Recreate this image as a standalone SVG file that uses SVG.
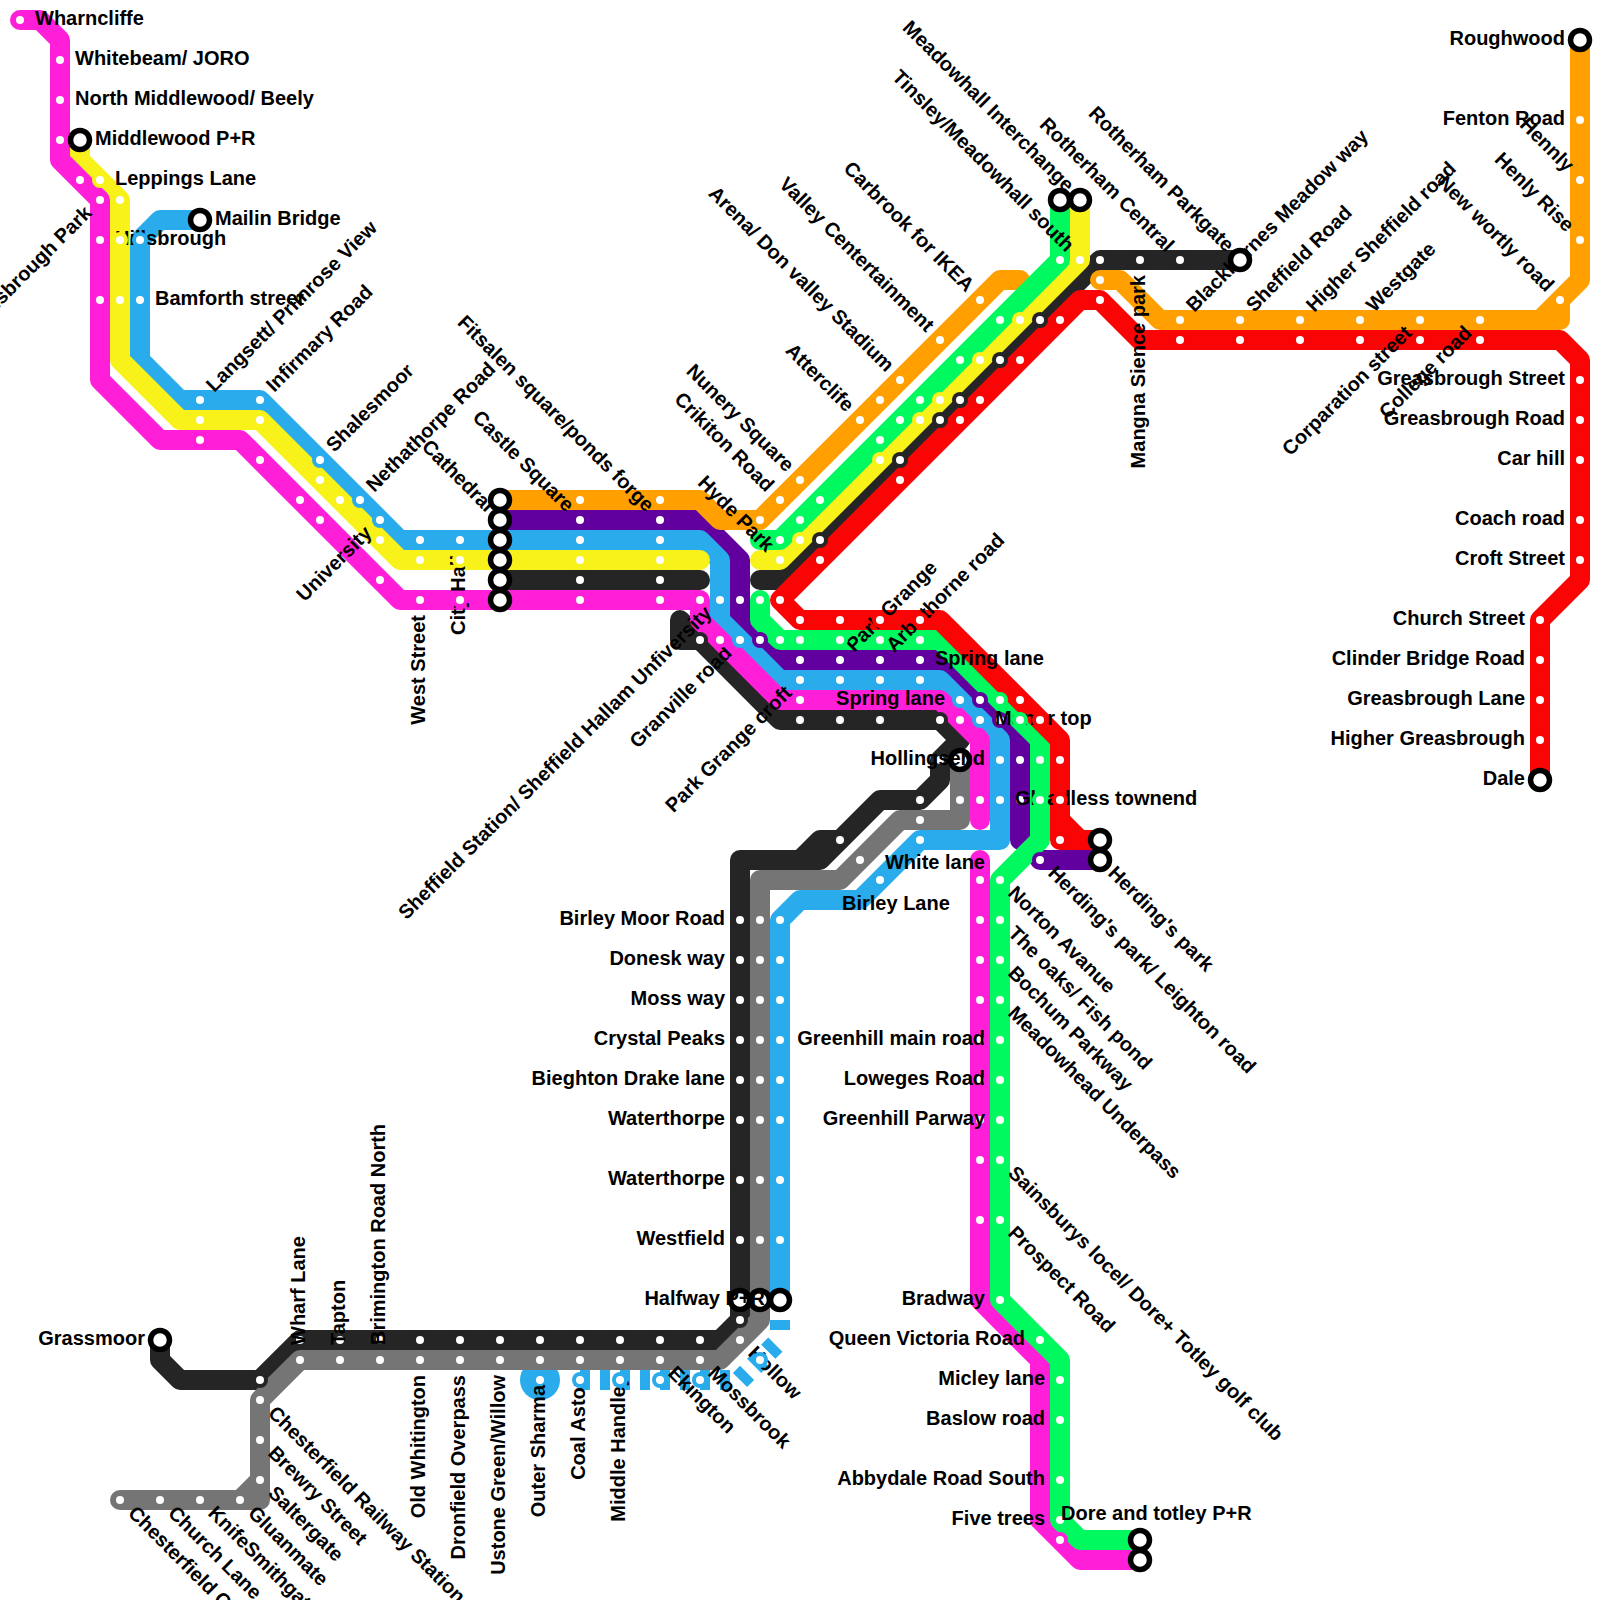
<svg xmlns="http://www.w3.org/2000/svg" width="1600" height="1600" viewBox="0 0 1600 1600">
<style>
.l{fill:none;stroke-width:20;stroke-linecap:round;stroke-linejoin:round}
.k{stroke:#252525}.g{stroke:#757575}.p{stroke:#61009e}.b{stroke:#29abec}.o{stroke:#ffa000}.y{stroke:#f9f21a}.m{stroke:#ff1fd8}.n{stroke:#00f95f}.r{stroke:#f90505}
.dash{fill:none;stroke:#29abec;stroke-width:20;stroke-linejoin:miter;stroke-dasharray:10 10}
.t{font-family:"Liberation Sans",Arial,sans-serif;font-weight:bold;font-size:20px;fill:#000}
.e{text-anchor:end}
</style>
<defs>
<g id="dk"><circle r="8" fill="#252525"/><circle r="4" fill="#fff"/></g>
<g id="dg"><circle r="8" fill="#757575"/><circle r="4" fill="#fff"/></g>
<g id="dp"><circle r="8" fill="#61009e"/><circle r="4" fill="#fff"/></g>
<g id="db"><circle r="8" fill="#29abec"/><circle r="4" fill="#fff"/></g>
<g id="do"><circle r="8" fill="#ffa000"/><circle r="4" fill="#fff"/></g>
<g id="dy"><circle r="8" fill="#f9f21a"/><circle r="4" fill="#fff"/></g>
<g id="dm"><circle r="8" fill="#ff1fd8"/><circle r="4" fill="#fff"/></g>
<g id="dn"><circle r="8" fill="#00f95f"/><circle r="4" fill="#fff"/></g>
<g id="dr"><circle r="8" fill="#f90505"/><circle r="4" fill="#fff"/></g>
<circle id="ring" r="9.5" fill="#fff" stroke="#000" stroke-width="5.5"/>
</defs>
<g id="connectors">
<circle cx="540" cy="1380" r="20" fill="#29abec"/>
<path class="l k" d="M160,1340V1360L180,1380H260L300,1340H720L740,1320V860H820L880,800H920L940,780V760L960,740L940,720H780L700,640H680V620L700,640M800,860L820,840H840L820,860M500,580H700M760,580H780L1100,260H1240"/>
<path class="l g" d="M120,1500H260V1480L240,1500M260,1480V1400L300,1360H720L760,1320V880H840L900,820H960V760"/>
<path class="l p" d="M500,520H700L740,560V620L780,660H940L1020,740V840M1040,860H1100"/>
<path class="l b" d="M200,220H160L140,240V360L180,400H260L400,540H700L720,560V620L780,680H940L1000,740V840H920L860,900H800L780,920V1300"/>
<path class="dash" d="M580,1380H740L780,1340"/>
<path class="dash" d="M780,1320V1330"/>
<path class="l o" d="M500,500H700L720,520H760L1000,280H1020M1100,280H1120L1160,320H1560V300L1540,320M1560,300L1580,280V40"/>
<path class="l y" d="M80,140V160L120,200V360L180,420H260L400,560H700M760,560H780L1080,260V200"/>
<path class="l m" d="M20,20H40L60,40V160L100,200V380L160,440H240L400,600H700V620L780,700H940L980,740V820M980,860V1300L1040,1360V1520L1080,1560H1140"/>
<path class="l n" d="M760,540H780L1060,260V200M760,600V620L780,640H940L1040,740V840L1000,880V1300L1060,1360V1520L1080,1540H1140"/>
<path class="l r" d="M1540,780V620L1580,580V360L1560,340H1140L1100,300H1080L780,600L800,620H940L1060,740V840H1100M1060,820L1080,840"/>
</g>
<g id="nodes">
<!-- dark line -->
<g id="k1"><use href="#dk" x="580" y="580"/></g>
<g id="k2"><use href="#dk" x="660" y="580"/></g>
<g id="k3"><use href="#dk" x="820" y="540"/></g>
<g id="k4"><use href="#dk" x="900" y="460"/></g>
<g id="k5"><use href="#dk" x="940" y="420"/></g>
<g id="k6"><use href="#dk" x="960" y="400"/></g>
<g id="k7"><use href="#dk" x="1000" y="360"/></g>
<g id="k8"><use href="#dk" x="1040" y="320"/></g>
<g id="k9"><use href="#dk" x="1100" y="260"/></g>
<g id="mangna"><use href="#dk" x="1140" y="260"/><text class="t e" x="1125" y="265" transform="rotate(-90 1140 260)">Mangna Sience park</text></g>
<g id="k10"><use href="#dk" x="1180" y="260"/><text class="t e" x="1165" y="265" transform="rotate(45 1180 260)">Rotherham Central</text></g>
<g id="k11"><use href="#dk" x="700" y="640"/></g>
<g id="k12"><use href="#dk" x="800" y="720"/></g>
<g id="k13"><use href="#dk" x="840" y="720"/></g>
<g id="k14"><use href="#dk" x="880" y="720"/></g>
<g id="k15"><use href="#dk" x="940" y="720"/></g>
<g id="k16"><use href="#dk" x="940" y="760"/></g>
<g id="k17"><use href="#dk" x="920" y="800"/></g>
<g id="k18"><use href="#dk" x="840" y="840"/></g>
<g id="birley-moor"><use href="#dk" x="740" y="920"/><text class="t e" x="725" y="925">Birley Moor Road</text></g>
<g id="donesk"><use href="#dk" x="740" y="960"/><text class="t e" x="725" y="965">Donesk way</text></g>
<g id="moss"><use href="#dk" x="740" y="1000"/><text class="t e" x="725" y="1005">Moss way</text></g>
<g id="crystal"><use href="#dk" x="740" y="1040"/><text class="t e" x="725" y="1045">Crystal Peaks</text></g>
<g id="bieghton"><use href="#dk" x="740" y="1080"/><text class="t e" x="725" y="1085">Bieghton Drake lane</text></g>
<g id="waterthorpe1"><use href="#dk" x="740" y="1120"/><text class="t e" x="725" y="1125">Waterthorpe</text></g>
<g id="waterthorpe2"><use href="#dk" x="740" y="1180"/><text class="t e" x="725" y="1185">Waterthorpe</text></g>
<g id="westfield"><use href="#dk" x="740" y="1240"/><text class="t e" x="725" y="1245">Westfield</text></g>
<g id="halfway-k"><use href="#ring" x="740" y="1300"/></g>
<g id="k19"><use href="#dk" x="740" y="1320"/></g>
<g id="k20"><use href="#dk" x="700" y="1340"/></g>
<g id="k21"><use href="#dk" x="660" y="1340"/></g>
<g id="k22"><use href="#dk" x="620" y="1340"/></g>
<g id="k23"><use href="#dk" x="580" y="1340"/></g>
<g id="k24"><use href="#dk" x="540" y="1340"/></g>
<g id="k25"><use href="#dk" x="500" y="1340"/></g>
<g id="k26"><use href="#dk" x="460" y="1340"/></g>
<g id="k27"><use href="#dk" x="420" y="1340"/></g>
<g id="k28"><use href="#dk" x="380" y="1340"/></g>
<g id="k29"><use href="#dk" x="340" y="1340"/></g>
<g id="k30"><use href="#dk" x="300" y="1340"/></g>
<g id="k31"><use href="#dk" x="260" y="1380"/></g>
<!-- grey line -->
<g id="g1"><use href="#dg" x="960" y="800"/></g>
<g id="hollingsend-g"><use href="#ring" x="960" y="760"/></g>
<g id="g2"><use href="#dg" x="920" y="820"/></g>
<g id="g3"><use href="#dg" x="860" y="860"/></g>
<g id="g4"><use href="#dg" x="760" y="920"/></g>
<g id="g5"><use href="#dg" x="760" y="960"/></g>
<g id="g6"><use href="#dg" x="760" y="1000"/></g>
<g id="g7"><use href="#dg" x="760" y="1040"/></g>
<g id="g8"><use href="#dg" x="760" y="1080"/></g>
<g id="g9"><use href="#dg" x="760" y="1120"/></g>
<g id="g10"><use href="#dg" x="760" y="1180"/></g>
<g id="g11"><use href="#dg" x="760" y="1240"/></g>
<g id="halfway-g"><use href="#ring" x="760" y="1300"/></g>
<g id="hollow"><use href="#dg" x="740" y="1340"/><text class="t" x="755" y="1345" transform="rotate(45 740 1340)">Hollow</text></g>
<g id="mossbrook"><use href="#dg" x="700" y="1360"/><text class="t" x="715" y="1365" transform="rotate(45 700 1360)">Mossbrook</text></g>
<g id="ekington"><use href="#dg" x="660" y="1360"/><text class="t" x="675" y="1365" transform="rotate(45 660 1360)">Ekington</text></g>
<g id="middle-handley"><use href="#dg" x="620" y="1360"/><text class="t e" x="605" y="1365" transform="rotate(-90 620 1360)">Middle Handley</text></g>
<g id="coal-aston"><use href="#dg" x="580" y="1360"/><text class="t e" x="565" y="1365" transform="rotate(-90 580 1360)">Coal Aston</text></g>
<g id="g12"><use href="#dg" x="540" y="1360"/></g>
<g id="ustone"><use href="#dg" x="500" y="1360"/><text class="t e" x="485" y="1365" transform="rotate(-90 500 1360)">Ustone Green/Willow</text></g>
<g id="dronfield"><use href="#dg" x="460" y="1360"/><text class="t e" x="445" y="1365" transform="rotate(-90 460 1360)">Dronfield Overpass</text></g>
<g id="old-whitington"><use href="#dg" x="420" y="1360"/><text class="t e" x="405" y="1365" transform="rotate(-90 420 1360)">Old Whitington</text></g>
<g id="brimington"><use href="#dg" x="380" y="1360"/><text class="t" x="395" y="1365" transform="rotate(-90 380 1360)">Brimington Road North</text></g>
<g id="tapton"><use href="#dg" x="340" y="1360"/><text class="t" x="355" y="1365" transform="rotate(-90 340 1360)">Tapton</text></g>
<g id="wharf-lane"><use href="#dg" x="300" y="1360"/><text class="t" x="315" y="1365" transform="rotate(-90 300 1360)">Wharf Lane</text></g>
<g id="chesterfield-rail"><use href="#dg" x="260" y="1400"/><text class="t" x="275" y="1405" transform="rotate(45 260 1400)">Chesterfield Railway Station</text></g>
<g id="brewry"><use href="#dg" x="260" y="1440"/><text class="t" x="275" y="1445" transform="rotate(45 260 1440)">Brewry Street</text></g>
<g id="saltergate"><use href="#dg" x="260" y="1480"/><text class="t" x="275" y="1485" transform="rotate(45 260 1480)">Saltergate</text></g>
<g id="gluanmate"><use href="#dg" x="240" y="1500"/><text class="t" x="255" y="1505" transform="rotate(45 240 1500)">Gluanmate</text></g>
<g id="knifesmithgate"><use href="#dg" x="200" y="1500"/><text class="t" x="215" y="1505" transform="rotate(45 200 1500)">KnifeSmithgate</text></g>
<g id="church-lane"><use href="#dg" x="160" y="1500"/><text class="t" x="175" y="1505" transform="rotate(45 160 1500)">Church Lane</text></g>
<g id="chesterfield-c"><use href="#dg" x="120" y="1500"/><text class="t" x="135" y="1505" transform="rotate(45 120 1500)">Chesterfield C</text></g>
<!-- Hillsbrough sits under the neighbouring halos -->
<g id="hillsbrough"><use href="#dm" x="100" y="240"/><text class="t" x="115" y="245">Hillsbrough</text></g>
<!-- purple line -->
<g id="castle-square"><use href="#dp" x="580" y="520"/><text class="t e" x="565" y="525" transform="rotate(45 580 520)">Castle Square</text></g>
<g id="fitsalen"><use href="#dp" x="660" y="520"/><text class="t e" x="645" y="525" transform="rotate(45 660 520)">Fitsalen square/ponds forge</text></g>
<g id="p1"><use href="#dp" x="740" y="600"/></g>
<g id="p2"><use href="#dp" x="760" y="640"/></g>
<g id="p3"><use href="#dp" x="800" y="660"/></g>
<g id="park-grange"><use href="#dp" x="840" y="660"/><text class="t" x="855" y="665" transform="rotate(-45 840 660)">Park Grange</text></g>
<g id="arbuthorne"><use href="#dp" x="880" y="660"/><text class="t" x="895" y="665" transform="rotate(-45 880 660)">Arbuthorne road</text></g>
<g id="spring-lane-1"><use href="#dp" x="920" y="660"/><text class="t" x="935" y="665">Spring lane</text></g>
<g id="p4"><use href="#dp" x="980" y="700"/></g>
<g id="p5"><use href="#dp" x="1000" y="720"/></g>
<g id="p6"><use href="#dp" x="1020" y="760"/></g>
<g id="p7"><use href="#dp" x="1020" y="800"/></g>
<g id="leighton"><use href="#dp" x="1040" y="860"/><text class="t" x="1055" y="865" transform="rotate(45 1040 860)">Herding's park/ Leighton road</text></g>
<!-- orange line -->
<g id="o1"><use href="#do" x="580" y="500"/></g>
<g id="o2"><use href="#do" x="660" y="500"/></g>
<g id="o3"><use href="#do" x="760" y="520"/></g>
<g id="crikiton"><use href="#do" x="780" y="500"/><text class="t e" x="765" y="505" transform="rotate(45 780 500)">Crikiton Road</text></g>
<g id="nunery"><use href="#do" x="800" y="480"/><text class="t e" x="785" y="485" transform="rotate(45 800 480)">Nunery Square</text></g>
<g id="attercliffe"><use href="#do" x="860" y="420"/><text class="t e" x="845" y="425" transform="rotate(45 860 420)">Atterclife</text></g>
<g id="o4"><use href="#do" x="880" y="400"/></g>
<g id="arena"><use href="#do" x="900" y="380"/><text class="t e" x="885" y="385" transform="rotate(45 900 380)">Arena/ Don valley Stadium</text></g>
<g id="valley"><use href="#do" x="940" y="340"/><text class="t e" x="925" y="345" transform="rotate(45 940 340)">Valley Centertainment</text></g>
<g id="carbrook"><use href="#do" x="980" y="300"/><text class="t e" x="965" y="305" transform="rotate(45 980 300)">Carbrook for IKEA</text></g>
<g id="o5"><use href="#do" x="1100" y="280"/></g>
<g id="blackburnes"><use href="#do" x="1180" y="320"/><text class="t" x="1195" y="325" transform="rotate(-45 1180 320)">Blackburnes Meadow way</text></g>
<g id="sheffield-road"><use href="#do" x="1240" y="320"/><text class="t" x="1255" y="325" transform="rotate(-45 1240 320)">Sheffield Road</text></g>
<g id="higher-sheffield"><use href="#do" x="1300" y="320"/><text class="t" x="1315" y="325" transform="rotate(-45 1300 320)">Higher Sheffield road</text></g>
<g id="westgate"><use href="#do" x="1360" y="320"/><text class="t" x="1375" y="325" transform="rotate(-45 1360 320)">Westgate</text></g>
<g id="corparation"><use href="#do" x="1420" y="320"/><text class="t e" x="1405" y="325" transform="rotate(-45 1420 320)">Corparation street</text></g>
<g id="college"><use href="#do" x="1480" y="320"/><text class="t e" x="1465" y="325" transform="rotate(-45 1480 320)">College road</text></g>
<g id="new-wortly"><use href="#do" x="1560" y="300"/><text class="t e" x="1545" y="305" transform="rotate(45 1560 300)">New wortly road</text></g>
<g id="henly-rise"><use href="#do" x="1580" y="240"/><text class="t e" x="1565" y="245" transform="rotate(45 1580 240)">Henly Rise</text></g>
<g id="hennly"><use href="#do" x="1580" y="180"/><text class="t e" x="1565" y="185" transform="rotate(45 1580 180)">Hennly</text></g>
<g id="fenton"><use href="#do" x="1580" y="120"/><text class="t e" x="1565" y="125">Fenton Road</text></g>
<!-- blue line -->
<g id="b1"><use href="#db" x="140" y="240"/></g>
<g id="bamforth"><use href="#db" x="140" y="300"/><text class="t" x="155" y="305">Bamforth street</text></g>
<g id="langsett"><use href="#db" x="200" y="400"/><text class="t" x="215" y="405" transform="rotate(-45 200 400)">Langsett/ Primrose View</text></g>
<g id="infirmary"><use href="#db" x="260" y="400"/><text class="t" x="275" y="405" transform="rotate(-45 260 400)">Infirmary Road</text></g>
<g id="shalesmoor"><use href="#db" x="320" y="460"/><text class="t" x="335" y="465" transform="rotate(-45 320 460)">Shalesmoor</text></g>
<g id="nethathorpe"><use href="#db" x="360" y="500"/><text class="t" x="375" y="505" transform="rotate(-45 360 500)">Nethathorpe Road</text></g>
<g id="university"><use href="#db" x="380" y="520"/><text class="t e" x="365" y="525" transform="rotate(-45 380 520)">University</text></g>
<g id="b2"><use href="#db" x="420" y="540"/></g>
<g id="city-hall"><use href="#db" x="460" y="540"/><text class="t e" x="445" y="545" transform="rotate(-90 460 540)">City Hall</text></g>
<g id="b3"><use href="#db" x="580" y="540"/></g>
<g id="b4"><use href="#db" x="660" y="540"/></g>
<g id="sheffield-station"><use href="#db" x="720" y="600"/><text class="t e" x="705" y="605" transform="rotate(-45 720 600)">Sheffield Station/ Sheffield Hallam Unfiversity</text></g>
<g id="granville"><use href="#db" x="740" y="640"/><text class="t e" x="725" y="645" transform="rotate(-45 740 640)">Granville road</text></g>
<g id="park-grange-croft"><use href="#db" x="800" y="680"/><text class="t e" x="785" y="685" transform="rotate(-45 800 680)">Park Grange croft</text></g>
<g id="b5"><use href="#db" x="840" y="680"/></g>
<g id="b6"><use href="#db" x="880" y="680"/></g>
<g id="b7"><use href="#db" x="920" y="680"/></g>
<g id="spring-lane-2"><use href="#db" x="960" y="700"/><text class="t e" x="945" y="705">Spring lane</text></g>
<g id="manor-top"><use href="#db" x="980" y="720"/><text class="t" x="995" y="725">Manor top</text></g>
<g id="hollingsend"><use href="#db" x="1000" y="760"/><text class="t e" x="985" y="765">Hollingsend</text></g>
<g id="gleadless"><use href="#db" x="1000" y="800"/><text class="t" x="1015" y="805">Gleadless townend</text></g>
<g id="b8"><use href="#db" x="920" y="840"/></g>
<g id="white-lane"><text class="t e" x="985" y="869">White lane</text></g>
<g id="b9"><use href="#db" x="880" y="880"/></g>
<g id="birley-lane"><text class="t" x="842" y="910">Birley Lane</text></g>
<g id="b10"><use href="#db" x="780" y="920"/></g>
<g id="b11"><use href="#db" x="780" y="960"/></g>
<g id="b12"><use href="#db" x="780" y="1000"/></g>
<g id="b13"><use href="#db" x="780" y="1040"/></g>
<g id="b14"><use href="#db" x="780" y="1080"/></g>
<g id="b15"><use href="#db" x="780" y="1120"/></g>
<g id="b16"><use href="#db" x="780" y="1180"/></g>
<g id="b17"><use href="#db" x="780" y="1240"/></g>
<g id="halfway"><use href="#ring" x="780" y="1300"/><text class="t e" x="765" y="1305">Halfway P+R</text></g>
<g id="b18"><use href="#db" x="760" y="1360"/></g>
<g id="b19"><use href="#db" x="700" y="1380"/></g>
<g id="b20"><use href="#db" x="660" y="1380"/></g>
<g id="b21"><use href="#db" x="620" y="1380"/></g>
<g id="b22"><use href="#db" x="580" y="1380"/></g>
<g id="outer-sharma"><use href="#db" x="540" y="1380"/><text class="t e" x="535" y="1385" transform="rotate(-90 540 1380)">Outer Sharma</text></g>
<!-- yellow line -->
<g id="leppings"><use href="#dy" x="100" y="180"/><text class="t" x="115" y="185">Leppings Lane</text></g>
<g id="y1"><use href="#dy" x="120" y="200"/></g>
<g id="y2"><use href="#dy" x="120" y="240"/></g>
<g id="y3"><use href="#dy" x="120" y="300"/></g>
<g id="y4"><use href="#dy" x="200" y="420"/></g>
<g id="y5"><use href="#dy" x="260" y="420"/></g>
<g id="y6"><use href="#dy" x="320" y="480"/></g>
<g id="y7"><use href="#dy" x="340" y="500"/></g>
<g id="y8"><use href="#dy" x="380" y="540"/></g>
<g id="y9"><use href="#dy" x="420" y="560"/></g>
<g id="y10"><use href="#dy" x="460" y="560"/></g>
<g id="y11"><use href="#dy" x="580" y="560"/></g>
<g id="y12"><use href="#dy" x="660" y="560"/></g>
<g id="hyde-park"><use href="#dy" x="780" y="560"/><text class="t e" x="765" y="565" transform="rotate(45 780 560)">Hyde Park</text></g>
<g id="y13"><use href="#dy" x="800" y="540"/></g>
<g id="y14"><use href="#dy" x="880" y="460"/></g>
<g id="y15"><use href="#dy" x="920" y="420"/></g>
<g id="y16"><use href="#dy" x="940" y="400"/></g>
<g id="y17"><use href="#dy" x="980" y="360"/></g>
<g id="y18"><use href="#dy" x="1020" y="320"/></g>
<g id="tinsley"><use href="#dy" x="1080" y="260"/><text class="t e" x="1065" y="265" transform="rotate(45 1080 260)">Tinsley/Meadowhall south</text></g>
<!-- magenta line -->
<g id="wharncliffe"><use href="#dm" x="20" y="20"/><text class="t" x="35" y="25">Wharncliffe</text></g>
<g id="whitebeam"><use href="#dm" x="60" y="60"/><text class="t" x="75" y="65">Whitebeam/ JORO</text></g>
<g id="north-middlewood"><use href="#dm" x="60" y="100"/><text class="t" x="75" y="105">North Middlewood/ Beely</text></g>
<g id="m1"><use href="#dm" x="60" y="140"/></g>
<g id="m2"><use href="#dm" x="80" y="180"/></g>
<g id="hillsbrough-park"><use href="#dm" x="100" y="200"/><text class="t e" x="85" y="205" transform="rotate(-45 100 200)">Hillsbrough Park</text></g>
<g id="m3"><use href="#dm" x="100" y="300"/></g>
<g id="m4"><use href="#dm" x="200" y="440"/></g>
<g id="m5"><use href="#dm" x="260" y="460"/></g>
<g id="m6"><use href="#dm" x="300" y="500"/></g>
<g id="m7"><use href="#dm" x="320" y="520"/></g>
<g id="m8"><use href="#dm" x="380" y="580"/></g>
<g id="west-street"><use href="#dm" x="420" y="600"/><text class="t e" x="405" y="605" transform="rotate(-90 420 600)">West Street</text></g>
<g id="m9"><use href="#dm" x="460" y="600"/></g>
<g id="m10"><use href="#dm" x="580" y="600"/></g>
<g id="m11"><use href="#dm" x="660" y="600"/></g>
<g id="m12"><use href="#dm" x="700" y="600"/></g>
<g id="m13"><use href="#dm" x="720" y="640"/></g>
<g id="m14"><use href="#dm" x="800" y="700"/></g>
<g id="m15"><use href="#dm" x="960" y="720"/></g>
<g id="m16"><use href="#dm" x="980" y="800"/></g>
<g id="m17"><use href="#dm" x="980" y="880"/></g>
<g id="m18"><use href="#dm" x="980" y="920"/></g>
<g id="m19"><use href="#dm" x="980" y="960"/></g>
<g id="m20"><use href="#dm" x="980" y="1000"/></g>
<g id="m21"><use href="#dm" x="980" y="1040"/></g>
<g id="m22"><use href="#dm" x="980" y="1080"/></g>
<g id="m23"><use href="#dm" x="980" y="1120"/></g>
<g id="m24"><use href="#dm" x="980" y="1160"/></g>
<g id="m25"><use href="#dm" x="980" y="1220"/></g>
<g id="m26"><use href="#dm" x="1060" y="1540"/></g>
<!-- green line -->
<g id="n1"><use href="#dn" x="780" y="540"/></g>
<g id="n2"><use href="#dn" x="800" y="520"/></g>
<g id="n3"><use href="#dn" x="820" y="500"/></g>
<g id="n4"><use href="#dn" x="880" y="440"/></g>
<g id="n5"><use href="#dn" x="900" y="420"/></g>
<g id="n6"><use href="#dn" x="920" y="400"/></g>
<g id="n7"><use href="#dn" x="960" y="360"/></g>
<g id="n8"><use href="#dn" x="1000" y="320"/></g>
<g id="n9"><use href="#dn" x="1060" y="260"/></g>
<g id="n10"><use href="#dn" x="760" y="600"/></g>
<g id="n11"><use href="#dn" x="780" y="640"/></g>
<g id="n12"><use href="#dn" x="800" y="640"/></g>
<g id="n13"><use href="#dn" x="840" y="640"/></g>
<g id="n14"><use href="#dn" x="880" y="640"/></g>
<g id="n15"><use href="#dn" x="920" y="640"/></g>
<g id="n16"><use href="#dn" x="1000" y="700"/></g>
<g id="n17"><use href="#dn" x="1020" y="720"/></g>
<g id="n18"><use href="#dn" x="1040" y="760"/></g>
<g id="n19"><use href="#dn" x="1040" y="800"/></g>
<g id="norton"><use href="#dn" x="1000" y="880"/><text class="t" x="1015" y="885" transform="rotate(45 1000 880)">Norton Avanue</text></g>
<g id="oaks"><use href="#dn" x="1000" y="920"/><text class="t" x="1015" y="925" transform="rotate(45 1000 920)">The oaks/ Fish pond</text></g>
<g id="bochum"><use href="#dn" x="1000" y="960"/><text class="t" x="1015" y="965" transform="rotate(45 1000 960)">Bochum Parkway</text></g>
<g id="meadowhead"><use href="#dn" x="1000" y="1000"/><text class="t" x="1015" y="1005" transform="rotate(45 1000 1000)">Meadowhead Underpass</text></g>
<g id="greenhill-main"><use href="#dn" x="1000" y="1040"/><text class="t e" x="985" y="1045">Greenhill main road</text></g>
<g id="loweges"><use href="#dn" x="1000" y="1080"/><text class="t e" x="985" y="1085">Loweges Road</text></g>
<g id="greenhill-parway"><use href="#dn" x="1000" y="1120"/><text class="t e" x="985" y="1125">Greenhill Parway</text></g>
<g id="sainsburys"><use href="#dn" x="1000" y="1160"/><text class="t" x="1015" y="1165" transform="rotate(45 1000 1160)">Sainsburys locel/ Dore+ Totley golf club</text></g>
<g id="prospect"><use href="#dn" x="1000" y="1220"/><text class="t" x="1015" y="1225" transform="rotate(45 1000 1220)">Prospect Road</text></g>
<g id="bradway"><use href="#dn" x="1000" y="1300"/><text class="t e" x="985" y="1305">Bradway</text></g>
<g id="queen-victoria"><use href="#dn" x="1040" y="1340"/><text class="t e" x="1025" y="1345">Queen Victoria Road</text></g>
<g id="micley"><use href="#dn" x="1060" y="1380"/><text class="t e" x="1045" y="1385">Micley lane</text></g>
<g id="baslow"><use href="#dn" x="1060" y="1420"/><text class="t e" x="1045" y="1425">Baslow road</text></g>
<g id="abbydale"><use href="#dn" x="1060" y="1480"/><text class="t e" x="1045" y="1485">Abbydale Road South</text></g>
<g id="five-trees"><use href="#dn" x="1060" y="1520"/><text class="t e" x="1045" y="1525">Five trees</text></g>
<!-- red line -->
<g id="r1"><use href="#dr" x="780" y="600"/></g>
<g id="r2"><use href="#dr" x="800" y="620"/></g>
<g id="r3"><use href="#dr" x="840" y="620"/></g>
<g id="r4"><use href="#dr" x="880" y="620"/></g>
<g id="r5"><use href="#dr" x="920" y="620"/></g>
<g id="r6"><use href="#dr" x="1020" y="700"/></g>
<g id="r7"><use href="#dr" x="1040" y="720"/></g>
<g id="r8"><use href="#dr" x="1060" y="760"/></g>
<g id="r9"><use href="#dr" x="1060" y="800"/></g>
<g id="r10"><use href="#dr" x="1060" y="840"/></g>
<g id="r11"><use href="#dr" x="820" y="560"/></g>
<g id="r12"><use href="#dr" x="900" y="480"/></g>
<g id="r13"><use href="#dr" x="960" y="420"/></g>
<g id="r14"><use href="#dr" x="980" y="400"/></g>
<g id="r15"><use href="#dr" x="1020" y="360"/></g>
<g id="r16"><use href="#dr" x="1060" y="320"/></g>
<g id="r17"><use href="#dr" x="1100" y="300"/></g>
<g id="r18"><use href="#dr" x="1180" y="340"/></g>
<g id="r19"><use href="#dr" x="1240" y="340"/></g>
<g id="r20"><use href="#dr" x="1300" y="340"/></g>
<g id="r21"><use href="#dr" x="1360" y="340"/></g>
<g id="r22"><use href="#dr" x="1420" y="340"/></g>
<g id="r23"><use href="#dr" x="1480" y="340"/></g>
<g id="greasbrough-street"><use href="#dr" x="1580" y="380"/><text class="t e" x="1565" y="385">Greasbrough Street</text></g>
<g id="greasbrough-road"><use href="#dr" x="1580" y="420"/><text class="t e" x="1565" y="425">Greasbrough Road</text></g>
<g id="car-hill"><use href="#dr" x="1580" y="460"/><text class="t e" x="1565" y="465">Car hill</text></g>
<g id="coach-road"><use href="#dr" x="1580" y="520"/><text class="t e" x="1565" y="525">Coach road</text></g>
<g id="croft-street"><use href="#dr" x="1580" y="560"/><text class="t e" x="1565" y="565">Croft Street</text></g>
<g id="church-street"><use href="#dr" x="1540" y="620"/><text class="t e" x="1525" y="625">Church Street</text></g>
<g id="clinder"><use href="#dr" x="1540" y="660"/><text class="t e" x="1525" y="665">Clinder Bridge Road</text></g>
<g id="greasbrough-lane"><use href="#dr" x="1540" y="700"/><text class="t e" x="1525" y="705">Greasbrough Lane</text></g>
<g id="higher-greasbrough"><use href="#dr" x="1540" y="740"/><text class="t e" x="1525" y="745">Higher Greasbrough</text></g>
<!-- terminal rings -->
<g id="cathedral"><text class="t e" x="485" y="525" transform="rotate(45 500 520)">Cathedral</text><use href="#ring" x="500" y="520"/></g>
<g id="t-orange"><use href="#ring" x="500" y="500"/></g>
<g id="t-blue"><use href="#ring" x="500" y="540"/></g>
<g id="t-yellow"><use href="#ring" x="500" y="560"/></g>
<g id="t-dark"><use href="#ring" x="500" y="580"/></g>
<g id="t-magenta"><use href="#ring" x="500" y="600"/></g>
<g id="middlewood"><use href="#ring" x="80" y="140"/><text class="t" x="95" y="145">Middlewood P+R</text></g>
<g id="mailin"><use href="#ring" x="200" y="220"/><text class="t" x="215" y="225">Mailin Bridge</text></g>
<g id="meadowhall"><text class="t e" x="1065" y="205" transform="rotate(45 1080 200)">Meadowhall Interchange</text><use href="#ring" x="1080" y="200"/></g>
<g id="t-green"><use href="#ring" x="1060" y="200"/></g>
<g id="parkgate"><text class="t e" x="1225" y="265" transform="rotate(45 1240 260)">Rotherham Parkgate</text><use href="#ring" x="1240" y="260"/></g>
<g id="roughwood"><use href="#ring" x="1580" y="40"/><text class="t e" x="1565" y="45">Roughwood</text></g>
<g id="dale"><use href="#ring" x="1540" y="780"/><text class="t e" x="1525" y="785">Dale</text></g>
<g id="herdings"><use href="#ring" x="1100" y="860"/><text class="t" x="1115" y="865" transform="rotate(45 1100 860)">Herding's park</text></g>
<g id="t-red"><use href="#ring" x="1100" y="840"/></g>
<g id="grassmoor"><use href="#ring" x="160" y="1340"/><text class="t e" x="145" y="1345">Grassmoor</text></g>
<g id="dore"><use href="#ring" x="1140" y="1540"/><text class="t" x="1061" y="1520">Dore and totley P+R</text></g>
<g id="t-magenta2"><use href="#ring" x="1140" y="1560"/></g>
</g>
</svg>
